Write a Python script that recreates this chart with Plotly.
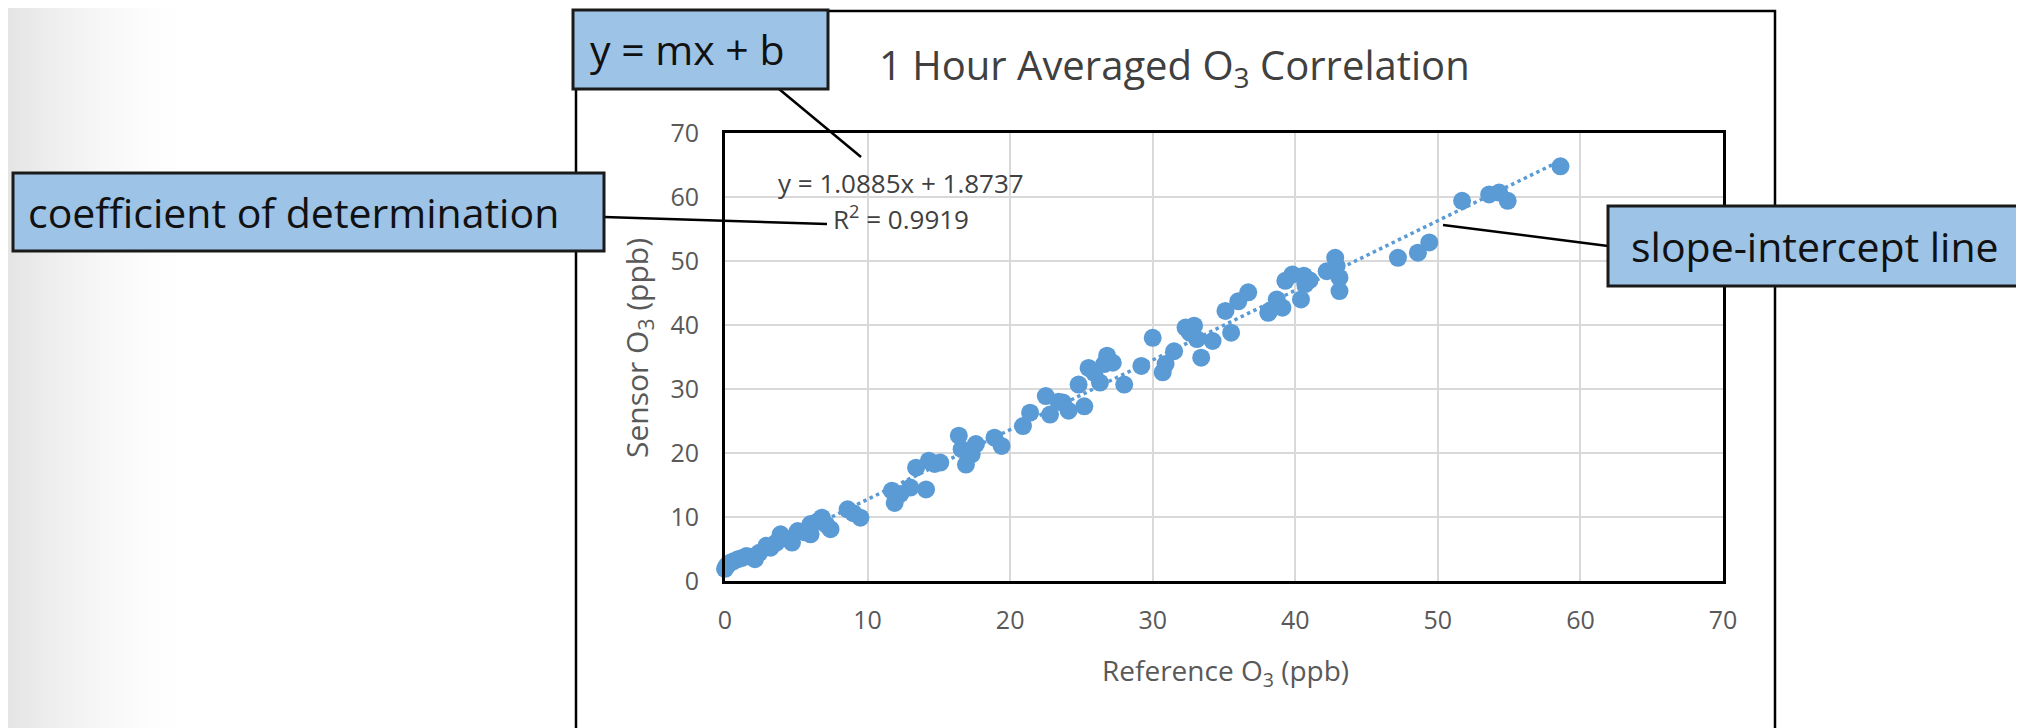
import plotly.graph_objects as go

# ---------------- data ----------------
reference_o3 = [0.0, 0.1, 0.2, 0.4, 0.6, 0.9, 1.2, 1.5, 1.8, 2.1, 2.4, 2.9, 3.2, 3.6, 3.9,
                4.4, 4.7, 5.1, 5.6, 6.0, 6.0, 6.5, 6.8, 7.1, 7.4, 8.6, 9.0, 9.5, 11.7, 11.9,
                12.3, 13.0, 13.4, 14.1, 14.3, 14.7, 15.1, 16.4, 16.6, 16.9, 17.3, 17.6, 18.9, 19.4,
                20.9, 21.4, 22.5, 22.8, 23.4, 23.7, 24.1, 24.8, 25.2, 25.5, 25.9, 26.3, 26.6, 26.8,
                27.2, 28.0, 29.2, 30.0, 30.7, 30.9, 31.5, 32.3, 32.6, 32.9, 33.1, 33.4, 34.2, 35.1,
                35.5, 36.0, 36.7, 38.1, 38.2, 38.7, 39.1, 39.3, 39.8, 40.4, 40.6, 40.7, 41.0, 42.2,
                42.8, 42.9, 43.1, 43.1, 47.2, 48.6, 49.4, 51.7, 53.6, 54.3, 54.9, 58.6]
sensor_o3 = [1.9, 2.3, 2.6, 2.9, 3.1, 3.4, 3.6, 3.9, 3.8, 3.4, 4.4, 5.5, 5.2, 6.0, 7.3,
             6.6, 6.0, 7.8, 7.6, 8.9, 7.3, 9.3, 9.9, 8.8, 8.1, 11.2, 10.6, 9.9, 14.1, 12.2,
             13.6, 14.6, 17.7, 14.3, 18.8, 18.3, 18.5, 22.7, 20.6, 18.2, 19.8, 21.4, 22.4, 21.1,
             24.2, 26.3, 28.9, 26.0, 28.0, 27.9, 26.6, 30.7, 27.3, 33.3, 32.5, 31.0, 33.9, 35.2,
             34.1, 30.7, 33.6, 38.0, 32.6, 33.9, 35.9, 39.6, 38.8, 39.9, 37.8, 34.9, 37.5, 42.2,
             38.8, 43.7, 45.1, 41.9, 42.2, 44.0, 42.7, 46.9, 47.9, 44.0, 47.7, 46.4, 47.0, 48.4,
             50.5, 49.2, 47.4, 45.3, 50.5, 51.3, 52.9, 59.4, 60.4, 60.7, 59.4, 64.8]

SLOPE = 1.0885
INTERCEPT = 1.8737
R_SQUARED = 0.9919

axis_ticks = [0, 10, 20, 30, 40, 50, 60, 70]

chart_title = "1 Hour Averaged O<sub>3</sub> Correlation"
x_title = "Reference O<sub>3</sub> (ppb)"
y_title = "Sensor O<sub>3</sub> (ppb)"
callout_equation = "y = mx + b"
callout_r2 = "coefficient of determination"
callout_line = "slope-intercept line"

# ---------------- helpers ----------------
PAGE_W, PAGE_H = 2024, 728
OFF = 8                      # default body margin of the html page
W, H = PAGE_W - OFF, PAGE_H - OFF
FONT = "Open Sans"
BLUE = "#5B9BD5"
BOX_FILL = "#9DC3E6"


def px(x):
    """page pixel x -> paper coordinate"""
    return (x - OFF) / W


def py(y):
    """page pixel y -> paper coordinate"""
    return 1 - (y - OFF) / H


trend_x = [min(reference_o3), max(reference_o3)]
trend_y = [SLOPE * v + INTERCEPT for v in trend_x]

fig = go.Figure()
fig.add_trace(go.Scatter(x=trend_x, y=trend_y, mode="lines",
                         line=dict(color=BLUE, width=3.5, dash="dot"),
                         hoverinfo="skip", showlegend=False))
fig.add_trace(go.Scatter(x=reference_o3, y=sensor_o3, mode="markers",
                         marker=dict(color=BLUE, size=18, line=dict(width=0)),
                         cliponaxis=False, showlegend=False))

axis_common = dict(range=[0, 70], tickvals=axis_ticks, showgrid=True, gridcolor="#d9d9d9",
                   gridwidth=2, showline=True, linecolor="black", linewidth=3, mirror=True,
                   zeroline=False, ticks="", automargin=False,
                   tickfont=dict(family=FONT, size=25, color="#595959"))

fig.update_layout(
    width=W, height=H,
    margin=dict(l=0, r=0, t=0, b=0),
    paper_bgcolor="white", plot_bgcolor="white",
    font=dict(family=FONT, size=25, color="#595959"),
    showlegend=False,
    xaxis=dict(domain=[px(725), px(1723)], ticklabelstandoff=15, **axis_common),
    yaxis=dict(domain=[py(581), py(133)], ticklabelstandoff=18, **axis_common),
)

shapes = []
# slide background gradient on the far left (fades quickly to white)
n_strips = 48
strip_w = 4
for i in range(n_strips):
    t = i / (n_strips - 1)
    c = int(round(255 - 28 * (1 - t) ** 1.6))
    shapes.append(dict(type="rect", xref="paper", yref="paper", layer="below",
                       x0=max(0, px(i * strip_w)), x1=px((i + 1) * strip_w + 1), y0=0, y1=1,
                       line=dict(width=0), fillcolor="rgb(%d,%d,%d)" % (c, c, min(255, c + 1))))
# outer chart frame
shapes.append(dict(type="rect", xref="paper", yref="paper", layer="below",
                   x0=px(576), x1=px(1775), y0=py(760), y1=py(11),
                   line=dict(color="black", width=2.5), fillcolor="rgba(0,0,0,0)"))
# connectors
for (x0, y0, x1, y1) in [(779, 89, 861, 157), (604, 217, 827, 224), (1608, 246, 1443, 225)]:
    shapes.append(dict(type="line", xref="paper", yref="paper", layer="above",
                       x0=px(x0), y0=py(y0), x1=px(x1), y1=py(y1),
                       line=dict(color="black", width=2.5)))
# callout boxes
for (x0, y0, x1, y1) in [(573, 10, 828, 89), (13, 173, 604, 251), (1608, 206, 2030, 286)]:
    shapes.append(dict(type="rect", xref="paper", yref="paper", layer="above",
                       x0=px(x0), y0=py(y1), x1=px(x1), y1=py(y0),
                       line=dict(color="#1a1a1a", width=3), fillcolor=BOX_FILL))
fig.update_layout(shapes=shapes)

annotations = [
    dict(text=chart_title, x=px(1174), y=py(66), font=dict(size=40, color="#404040")),
    dict(text="y = %.4fx + %.4f" % (SLOPE, INTERCEPT), x=px(901), y=py(183),
         font=dict(size=26, color="#404040")),
    dict(text="R<sup>2</sup> = %.4f" % R_SQUARED, x=px(901), y=py(218),
         font=dict(size=26, color="#404040")),
    dict(text=x_title, x=px(1225), y=py(672), font=dict(size=28, color="#595959")),
    dict(text=y_title, x=px(638), y=py(348), textangle=-90, font=dict(size=30, color="#595959")),
    dict(text=callout_equation, x=px(687), y=py(49), font=dict(size=41, color="#111111")),
    dict(text=callout_r2, x=px(293), y=py(212), font=dict(size=41, color="#111111")),
    dict(text=callout_line, x=px(1815), y=py(246), font=dict(size=41, color="#111111")),
]
for a in annotations:
    a.update(xref="paper", yref="paper", showarrow=False, xanchor="center", yanchor="middle")
    a["font"]["family"] = FONT
fig.update_layout(annotations=annotations)

fig.write_html("out.html")
